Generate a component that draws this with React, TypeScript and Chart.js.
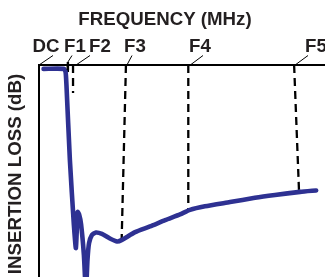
import React, { useEffect, useRef } from "react";
import { Chart, registerables } from "chart.js";

Chart.register(...registerables);

// Frequency axis: arbitrary units 0..100 (left edge = DC), insertion loss: 0..60 dB (downwards)
const curveFreq = [1.6, 8.7, 9.3, 9.6, 10.8, 12.2, 12.9, 13.5, 14.0, 14.7, 15.7, 16.4, 16.96, 17.5, 18.5, 19.9, 22.0, 24.8, 27.3, 29.0, 33.6, 38.8, 44.1, 49.3, 52.8, 58.0, 66.8, 75.5, 82.5, 91.3, 96.9];
const curveLoss = [1.1, 1.1, 2.0, 5.7, 26.9, 45.3, 51.8, 41.6, 42.2, 45.0, 53.8, 64.2, 55.0, 50.4, 48.1, 47.4, 47.8, 49.1, 49.95, 49.5, 47.3, 45.7, 43.9, 42.3, 41.0, 40.0, 38.8, 37.6, 36.8, 35.9, 35.5];

const freqLabels = ["DC", "F1", "F2", "F3", "F4", "F5"];
const markerTopFreq = [0, 10.1, 11.9, 30.4, 52.2, 89.2];
const markerBottomFreq = [0, 10.1, 11.9, 28.9, 52.2, 90.9];
const markerBottomLoss = [0, 2.0, 7.9, 49.5, 41.0, 35.4];

const xTitle = "FREQUENCY (MHz)";
const yTitle = "INSERTION LOSS (dB)";

// layout of the annotation labels (pixels)
const labelCenterPx = [46, 75, 100, 135, 200, 316];
const leaderTopPx = [53, 72, 90, 132, 203, 308];
const leaderStartOffset = [0, 0, 3, 1, 2, 1];

const TEXT = "#231f20";
const BLUE = "#2e3192";
const FONT = "bold 18.7px 'Liberation Sans', Arial, sans-serif";

export default function App() {
  const ref = useRef<HTMLCanvasElement | null>(null);

  useEffect(() => {
    document.body.style.margin = "0";
    const canvas = ref.current!;
    const markerSets = freqLabels.slice(1).map((_, k) => {
      const i = k + 1;
      return {
        label: freqLabels[i],
        data: [
          { x: markerTopFreq[i], y: 0 },
          { x: markerBottomFreq[i], y: markerBottomLoss[i] },
        ],
        showLine: true,
        borderColor: "#000000",
        borderWidth: 2.3,
        borderDash: [8, 5],
        pointRadius: 0,
        order: 2,
        clip: 4,
      };
    });

    const annot = {
      id: "annot",
      beforeDatasetsDraw(chart: any) {
        const { ctx, chartArea } = chart;
        ctx.save();
        ctx.strokeStyle = "#000";
        ctx.lineWidth = 2;
        ctx.beginPath();
        ctx.moveTo(chartArea.left, chartArea.bottom);
        ctx.lineTo(chartArea.left, chartArea.top);
        ctx.lineTo(chartArea.right, chartArea.top);
        ctx.stroke();
        ctx.restore();
      },
      afterDraw(chart: any) {
        const { ctx, chartArea } = chart;
        const xs = chart.scales.x;
        ctx.save();
        ctx.fillStyle = TEXT;
        ctx.font = FONT;
        ctx.textAlign = "center";
        ctx.textBaseline = "alphabetic";
        ctx.fillText(xTitle, 165, 25);
        for (let i = 0; i < freqLabels.length; i++) {
          ctx.fillText(freqLabels[i], labelCenterPx[i], 52);
          const sx = xs.getPixelForValue(markerTopFreq[i]) + leaderStartOffset[i];
          ctx.strokeStyle = "#000";
          ctx.lineWidth = 1;
          ctx.beginPath();
          ctx.moveTo(sx, i === 1 ? chartArea.top - 3 : chartArea.top);
          ctx.lineTo(leaderTopPx[i], 55.5);
          ctx.stroke();
        }
        const f1 = xs.getPixelForValue(markerTopFreq[1]);
        ctx.fillStyle = "#000";
        ctx.fillRect(f1 - 1.2, chartArea.top - 3, 2.4, 8);
        ctx.fillStyle = TEXT;
        ctx.translate(21, 174);
        ctx.rotate(-Math.PI / 2);
        ctx.textAlign = "center";
        ctx.fillText(yTitle, 0, 0);
        ctx.restore();
      },
    };

    const chart = new Chart(canvas, {
      type: "scatter",
      data: {
        datasets: [
          {
            label: "Insertion loss",
            data: curveFreq.map((f, i) => ({ x: f, y: curveLoss[i] })),
            showLine: true,
            borderColor: BLUE,
            borderWidth: 4.6,
            borderCapStyle: "round",
            borderJoinStyle: "round",
            pointRadius: 0,
            tension: 0.2,
            order: 0,
          } as any,
          ...markerSets,
        ],
      },
      options: {
        animation: false,
        responsive: false,
        layout: { padding: { left: 39, top: 65, right: 0, bottom: 0 } },
        plugins: { legend: { display: false }, tooltip: { enabled: false } },
        scales: {
          x: { type: "linear", min: 0, max: 100, display: false },
          y: { type: "linear", min: 0, max: 60, reverse: true, display: false },
        },
      },
      plugins: [annot],
    });
    return () => chart.destroy();
  }, []);

  return <canvas ref={ref} width={325} height={277} style={{ display: "block" }} />;
}
